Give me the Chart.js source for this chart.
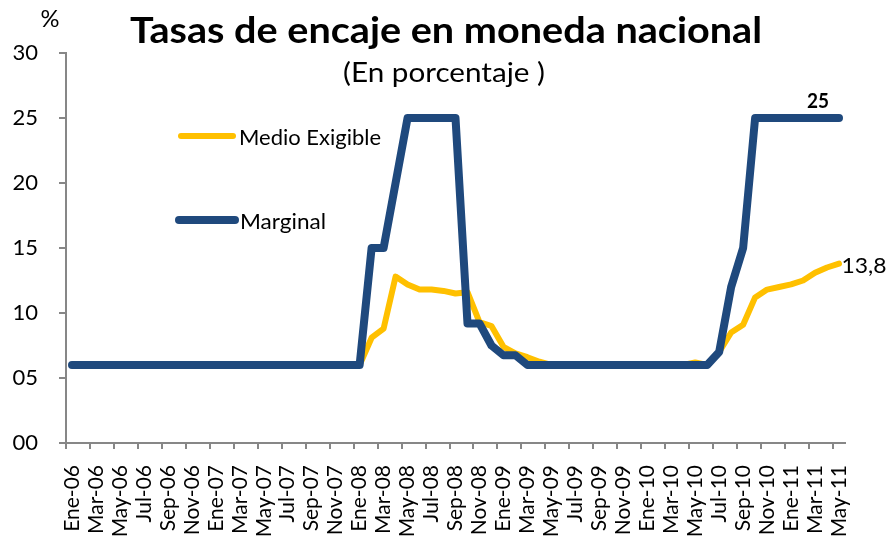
<!DOCTYPE html>
<html>
<head>
<meta charset="utf-8">
<script src="https://cdn.jsdelivr.net/npm/chart.js@4.4.0/dist/chart.umd.min.js"></script>
<style>
  html, body { margin: 0; padding: 0; background: #fff; }
  canvas { display: block; }
</style>
</head>
<body>
<canvas id="encaje" width="889" height="542"></canvas>
<script>
// meses (Ene-06 ... May-11)
const mesesCorto = ['Ene','Feb','Mar','Abr','May','Jun','Jul','Ago','Sep','Oct','Nov','Dic']
const anios = ['06','07','08','09','10','11']

// tasas en porcentaje
const marginal = [
  6,6,6,6,6,6,6,6,6,6,6,6,            // 2006
  6,6,6,6,6,6,6,6,6,6,6,6,            // 2007
  6,15,15,20,25,25,25,25,25,9.2,9.2,7.5, // 2008
  6.75,6.75,6,6,6,6,6,6,6,6,6,6,      // 2009
  6,6,6,6,6,6,7,12,15,25,25,25,       // 2010
  25,25,25,25,25                      // 2011
]
const medioExigible = [
  6,6,6,6,6,6,6,6,6,6,6,6,
  6,6,6,6,6,6,6,6,6,6,6,6,
  6,8.1,8.8,12.8,12.2,11.8,11.8,11.7,11.5,11.6,9.3,9.0,
  7.4,6.9,6.6,6.25,6,6,6,6,6,6,6,6,
  6,6,6,6,6.2,6,7,8.5,9.1,11.2,11.8,12.0,
  12.2,12.5,13.1,13.5,13.8
]
const yTicks = [0, 5, 10, 15, 20, 25, 30]

const etiquetas = []
anios.forEach(a => mesesCorto.forEach(m => etiquetas.push(m + '-' + a)))
etiquetas.length = marginal.length

const AZUL = '#1F497D'
const AMARILLO = '#FFC000'
const EJE = '#878787'

// texto ajustado a un ancho dado (centrado en cx)
function fitText(ctx, s, cx, y, font, w) {
  ctx.save()
  ctx.font = font
  const m = ctx.measureText(s).width
  ctx.translate(cx, y)
  ctx.scale(w / m, 1)
  ctx.textAlign = 'center'
  ctx.textBaseline = 'alphabetic'
  ctx.fillText(s, 0, 0)
  ctx.restore()
}

const extras = {
  id: 'extras',
  afterDraw(chart) {
    const ctx = chart.ctx
    ctx.save()
    ctx.fillStyle = '#000'
    fitText(ctx, 'Tasas de encaje en moneda nacional', 446, 43, 'bold 37px Lato', 632)
    fitText(ctx, '(En porcentaje )', 444, 82, '26px Lato', 202)
    fitText(ctx, '%', 50, 27, '23px Lato', 19)

    // leyenda dentro del grafico
    ctx.lineCap = 'round'
    ctx.strokeStyle = AMARILLO
    ctx.lineWidth = 6
    ctx.beginPath(); ctx.moveTo(181, 136); ctx.lineTo(233, 136); ctx.stroke()
    ctx.strokeStyle = AZUL
    ctx.lineWidth = 8
    ctx.beginPath(); ctx.moveTo(179, 220); ctx.lineTo(235, 220); ctx.stroke()
    fitText(ctx, 'Medio Exigible', 239 + 71, 145, '22px Lato', 142)
    fitText(ctx, 'Marginal', 240 + 43, 229, '22px Lato', 86)

    // etiquetas del ultimo dato
    const pAzul = chart.getDatasetMeta(0).data[marginal.length - 1]
    const pAmar = chart.getDatasetMeta(1).data[medioExigible.length - 1]
    const ultAzul = marginal[marginal.length - 1]
    const ultAmar = medioExigible[medioExigible.length - 1]
    fitText(ctx, String(ultAzul), pAzul.x - 21, pAzul.y - 10, 'bold 20px Lato', 22)
    fitText(ctx, ultAmar.toFixed(1).replace('.', ','), pAmar.x + 3 + 22, pAmar.y + 9, '22px Lato', 45)
    ctx.restore()
  }
}

new Chart(document.getElementById('encaje'), {
  type: 'line',
  data: {
    labels: etiquetas,
    datasets: [
      {
        label: 'Marginal',
        data: marginal,
        borderColor: AZUL,
        borderWidth: 8,
        borderJoinStyle: 'round',
        borderCapStyle: 'round',
        pointRadius: 0,
        tension: 0,
        clip: false
      },
      {
        label: 'Medio Exigible',
        data: medioExigible,
        borderColor: AMARILLO,
        borderWidth: 6,
        borderJoinStyle: 'round',
        borderCapStyle: 'round',
        pointRadius: 0,
        tension: 0,
        clip: false
      }
    ]
  },
  options: {
    responsive: false,
    animation: false,
    devicePixelRatio: 1,
    layout: { padding: { left: 0, right: 44, top: 53, bottom: 0 } },
    plugins: {
      legend: { display: false },
      title: { display: false },
      tooltip: { enabled: false }
    },
    scales: {
      x: {
        type: 'category',
        offset: true,
        afterFit: s => { s.height = 99 },
        border: { display: true, color: EJE, width: 2 },
        grid: {
          offset: true,
          drawOnChartArea: false,
          drawTicks: true,
          tickLength: 6,
          lineWidth: 2,
          color: c => (c.index % 2 === 0 ? EJE : 'rgba(0,0,0,0)')
        },
        ticks: {
          autoSkip: false,
          minRotation: 90,
          maxRotation: 90,
          padding: 16,
          color: '#000',
          font: { family: 'Lato', size: 21 },
          callback: function (v, i) { return i % 2 === 0 ? etiquetas[i] : '' }
        }
      },
      y: {
        min: 0,
        max: 30,
        afterFit: s => { s.width = 66 },
        afterBuildTicks: s => { s.ticks = yTicks.map(v => ({ value: v })) },
        border: { display: true, color: EJE, width: 2 },
        grid: {
          drawOnChartArea: false,
          drawTicks: true,
          tickLength: 7,
          lineWidth: 2,
          color: EJE
        },
        ticks: {
          padding: 21,
          color: '#000',
          font: { family: 'Lato', size: 22 },
          callback: v => String(v).padStart(2, '0')
        }
      }
    }
  },
  plugins: [extras]
})
</script>
</body>
</html>
